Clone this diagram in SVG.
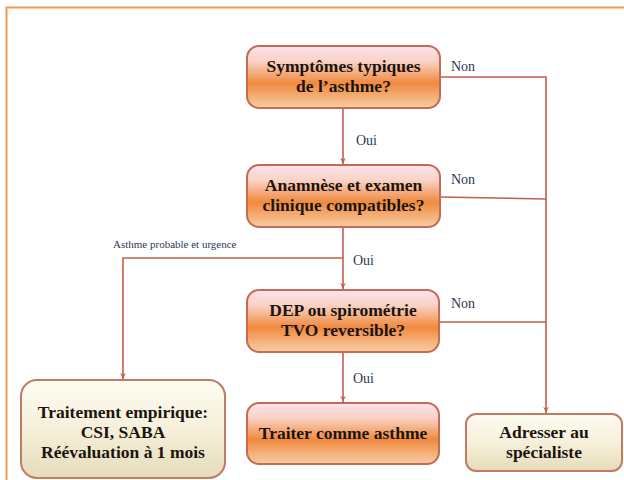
<svg xmlns="http://www.w3.org/2000/svg" width="624" height="480" viewBox="0 0 624 480">
<defs>
<linearGradient id="gOr" x1="0" y1="0" x2="0" y2="1">
<stop offset="0" stop-color="#fbe3ee"/>
<stop offset="0.25" stop-color="#f9d2c4"/>
<stop offset="0.6" stop-color="#f08a3e"/>
<stop offset="1" stop-color="#f9cda4"/>
</linearGradient>
<linearGradient id="gCr" x1="0" y1="0" x2="0" y2="1">
<stop offset="0" stop-color="#fdfcf2"/>
<stop offset="0.5" stop-color="#f6f0da"/>
<stop offset="1" stop-color="#e6dcba"/>
</linearGradient>
<marker id="arr" viewBox="0 0 10 10" refX="9" refY="5" markerWidth="7" markerHeight="7" markerUnits="userSpaceOnUse" orient="auto">
<path d="M0,1 L9,5 L0,9 L3,5 Z" fill="#c0604a"/>
</marker>
<style>
.or{fill:url(#gOr);stroke:#c46b55;stroke-width:2}
.cr{fill:url(#gCr);stroke:#c07a65;stroke-width:2}
.t{font-family:Liberation Serif, DejaVu Serif, serif;font-weight:bold;font-size:17.5px;fill:#1a1410;text-anchor:middle}
.l{font-family:Liberation Serif, DejaVu Serif, serif;font-size:14px;fill:#2d3a52}
.s{font-family:Liberation Serif, DejaVu Serif, serif;font-size:11px;fill:#2d3a52}
.c{fill:none;stroke:#c0604a;stroke-width:1.6}
</style>
</defs>
<rect width="624" height="480" fill="#ffffff"/>
<path d="M6.5,480 L6.5,7.5 L624,7.5" fill="none" stroke="#f39a55" stroke-width="2"/>
<g id="connectors">
<path class="c" d="M343,108 L343,164" marker-end="url(#arr)"/>
<path class="c" d="M343,227 L343,289" marker-end="url(#arr)"/>
<path class="c" d="M343,258 L123,258 L123,379" marker-end="url(#arr)"/>
<path class="c" d="M343,352 L343,402" marker-end="url(#arr)"/>
<path class="c" d="M440,77 L546,77 L546,413" marker-end="url(#arr)"/>
<path class="c" d="M440,197 L546,199"/>
<path class="c" d="M439,322 L546,322"/>
<text class="l" x="356" y="145">Oui</text>
<text class="l" x="353" y="265">Oui</text>
<text class="l" x="353" y="383">Oui</text>
<text class="l" x="451" y="71">Non</text>
<text class="l" x="451" y="184">Non</text>
<text class="l" x="451" y="308">Non</text>
<text class="s" x="113" y="248">Asthme probable et urgence</text>
</g>
<g id="n1">
<rect class="or" x="247" y="46" width="193" height="62" rx="12"/>
<text class="t" x="343.5" y="72">Symptômes typiques</text>
<text class="t" x="343.5" y="92">de l’asthme?</text>
</g>
<g id="n2">
<rect class="or" x="247" y="165" width="193" height="62" rx="12"/>
<text class="t" x="343.5" y="191">Anamnèse et examen</text>
<text class="t" x="343.5" y="211">clinique compatibles?</text>
</g>
<g id="n3">
<rect class="or" x="247" y="290" width="192" height="62" rx="12"/>
<text class="t" x="343" y="316">DEP ou spirométrie</text>
<text class="t" x="343" y="336">TVO reversible?</text>
</g>
<g id="n4">
<rect class="or" x="247" y="403" width="192" height="61" rx="12"/>
<text class="t" x="343" y="439">Traiter comme asthme</text>
</g>
<g id="n5">
<rect class="cr" x="21" y="380" width="204" height="98" rx="16"/>
<text class="t" x="123" y="418">Traitement empirique:</text>
<text class="t" x="123" y="438">CSI, SABA</text>
<text class="t" x="123" y="458">Réévaluation à 1 mois</text>
</g>
<g id="n6">
<rect class="cr" x="466" y="414" width="156" height="57" rx="10"/>
<text class="t" x="544" y="438">Adresser au</text>
<text class="t" x="544" y="458">spécialiste</text>
</g>
</svg>
